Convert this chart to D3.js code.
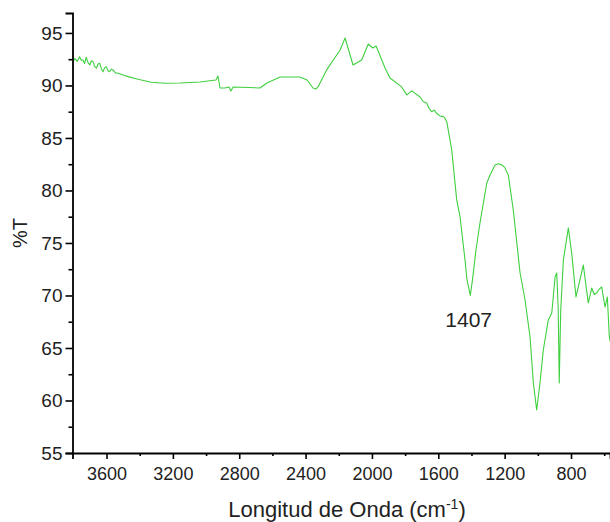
<!DOCTYPE html>
<html>
<head>
<meta charset="utf-8">
<script src="https://cdn.jsdelivr.net/npm/d3@7"></script>
<style>
  body { margin: 0; background: #fff; }
  text { font-family: "Liberation Sans", Arial, sans-serif; }
</style>
</head>
<body>
<script>
// Configuration
var width = 610;
var height = 522;
var lineColor = '#3fd03f';

// Data
var waveNumbers = [
  3802, 3790, 3776, 3762, 3752, 3742, 3732, 3722, 3712, 3701,
  3691, 3681, 3671, 3661, 3651, 3641, 3631, 3621, 3611, 3601,
  3591, 3581, 3571, 3561, 3546, 3531, 3500, 3470, 3410, 3330,
  3249, 3157, 3036, 2940, 2928, 2916, 2886, 2862, 2850, 2837,
  2675, 2633, 2554, 2434, 2391, 2355, 2337, 2325, 2273, 2192,
  2162, 2114, 2062, 2022, 1995, 1975, 1921, 1891, 1821, 1790,
  1760, 1710, 1690, 1670, 1655, 1640, 1625, 1610, 1590, 1570,
  1560, 1549, 1519, 1489, 1469, 1439, 1427, 1407, 1394, 1373,
  1349, 1308, 1288, 1258, 1238, 1218, 1200, 1178, 1148, 1107,
  1077, 1047, 1027, 1007, 987, 967, 937, 916, 896, 886,
  877, 871, 862, 846, 816, 796, 770, 726, 696, 675,
  660, 645, 630, 615, 595, 581, 569, 553
];
var transmittance = [
  92.27, 92.55, 92.30, 92.74, 92.40, 92.43, 92.10, 92.69, 92.20, 91.95,
  92.35, 92.27, 91.80, 91.64, 92.05, 92.11, 91.60, 91.31, 91.70, 91.79,
  91.40, 91.31, 91.55, 91.48, 91.20, 91.16, 91.00, 90.84, 90.59, 90.30,
  90.21, 90.24, 90.33, 90.52, 90.90, 89.76, 89.76, 89.86, 89.48, 89.86,
  89.76, 90.24, 90.81, 90.81, 90.52, 89.76, 89.67, 89.86, 91.48, 93.38,
  94.52, 91.95, 92.43, 93.95, 93.57, 93.76, 91.67, 90.71, 89.86, 89.10,
  89.48, 88.90, 88.45, 88.33, 87.80, 87.50, 87.65, 87.35, 87.10, 87.03,
  86.88, 86.55, 83.86, 79.10, 77.50, 73.38, 71.48, 70.00, 71.48, 74.33,
  76.88, 80.69, 81.48, 82.43, 82.55, 82.45, 82.20, 81.48, 78.14, 72.14,
  69.57, 66.05, 61.67, 59.10, 61.67, 64.81, 67.67, 68.33, 71.76, 72.14,
  68.62, 61.67, 68.62, 73.38, 76.43, 74.05, 69.86, 72.90, 69.29, 70.71,
  70.10, 70.24, 70.60, 70.81, 68.90, 69.86, 66.05, 64.80
];
var xTickValues = [3600, 3200, 2800, 2400, 2000, 1600, 1200, 800];
var xMinorTicks = [3400, 3000, 2600, 2200, 1800, 1400, 1000, 600];
var yTickValues = [55, 60, 65, 70, 75, 80, 85, 90, 95];
var yMinorTicks = [57.5, 62.5, 67.5, 72.5, 77.5, 82.5, 87.5, 92.5];
var peakLabel = { wave: 1407, value: 70, text: '1407' };

var plotLeft = 72.5;
var plotRight = 610;
var plotTop = 13;
var plotBottom = 453;

var svg = d3.select('body')
  .append('svg')
  .attr('width', width)
  .attr('height', height);

var x = d3.scaleLinear().domain([3805, 565]).range([plotLeft, plotRight]);
var y = d3.scaleLinear().domain([55, 96.9]).range([plotBottom, plotTop]);

var points = waveNumbers.map(function(w, i) { return [w, transmittance[i]]; });

svg.append('clipPath')
  .attr('id', 'plotClip')
  .append('rect')
  .attr('x', plotLeft)
  .attr('y', 0)
  .attr('width', plotRight - plotLeft)
  .attr('height', plotBottom);

var line = d3.line()
  .x(function(d) { return x(d[0]); })
  .y(function(d) { return y(d[1]); });

svg.append('path')
  .datum(points)
  .attr('clip-path', 'url(#plotClip)')
  .attr('fill', 'none')
  .attr('stroke', lineColor)
  .attr('stroke-width', 1.1)
  .attr('stroke-linejoin', 'round')
  .attr('d', line);

// X axis
var xAxis = svg.append('g')
  .attr('transform', 'translate(0,' + plotBottom + ')')
  .call(d3.axisBottom(x).tickValues(xTickValues).tickSize(6).tickPadding(8).tickFormat(d3.format('d')));
var xMinor = svg.append('g')
  .attr('transform', 'translate(0,' + plotBottom + ')')
  .call(d3.axisBottom(x).tickValues(xMinorTicks).tickSize(3).tickFormat(''));

// Y axis
var yAxis = svg.append('g')
  .attr('transform', 'translate(' + plotLeft + ',0)')
  .call(d3.axisLeft(y).tickValues(yTickValues).tickSize(7).tickPadding(3).tickFormat(d3.format('d')));
var yMinor = svg.append('g')
  .attr('transform', 'translate(' + plotLeft + ',0)')
  .call(d3.axisLeft(y).tickValues(yMinorTicks).tickSize(4).tickFormat(''));

[xAxis, xMinor, yAxis, yMinor].forEach(function(g) {
  g.select('.domain').attr('stroke', '#000').attr('stroke-width', 1.8);
  g.selectAll('.tick line').attr('stroke', '#000').attr('stroke-width', 1.6);
  g.selectAll('.tick text')
    .attr('fill', '#222')
    .style('font-size', '18px')
    .style('font-family', '"Liberation Sans", Arial, sans-serif');
});
yAxis.selectAll('.tick text').style('font-size', '19px');
xMinor.select('.domain').remove();
yMinor.select('.domain').remove();

// Axis titles
var xTitle = svg.append('text')
  .attr('x', 347)
  .attr('y', 517)
  .attr('text-anchor', 'middle')
  .attr('fill', '#222')
  .style('font-size', '22px');
xTitle.append('tspan').text('Longitud de Onda (cm');
xTitle.append('tspan').attr('dy', -8).style('font-size', '14px').text('-1');
xTitle.append('tspan').attr('dy', 8).text(')');

svg.append('text')
  .attr('transform', 'translate(27,233) rotate(-90)')
  .attr('text-anchor', 'middle')
  .attr('fill', '#222')
  .style('font-size', '20px')
  .text('%T');

// Peak annotation
svg.append('text')
  .attr('x', x(peakLabel.wave) - 25)
  .attr('y', y(peakLabel.value) + 32)
  .attr('fill', '#222')
  .style('font-size', '21px')
  .text(peakLabel.text);
</script>
</body>
</html>
